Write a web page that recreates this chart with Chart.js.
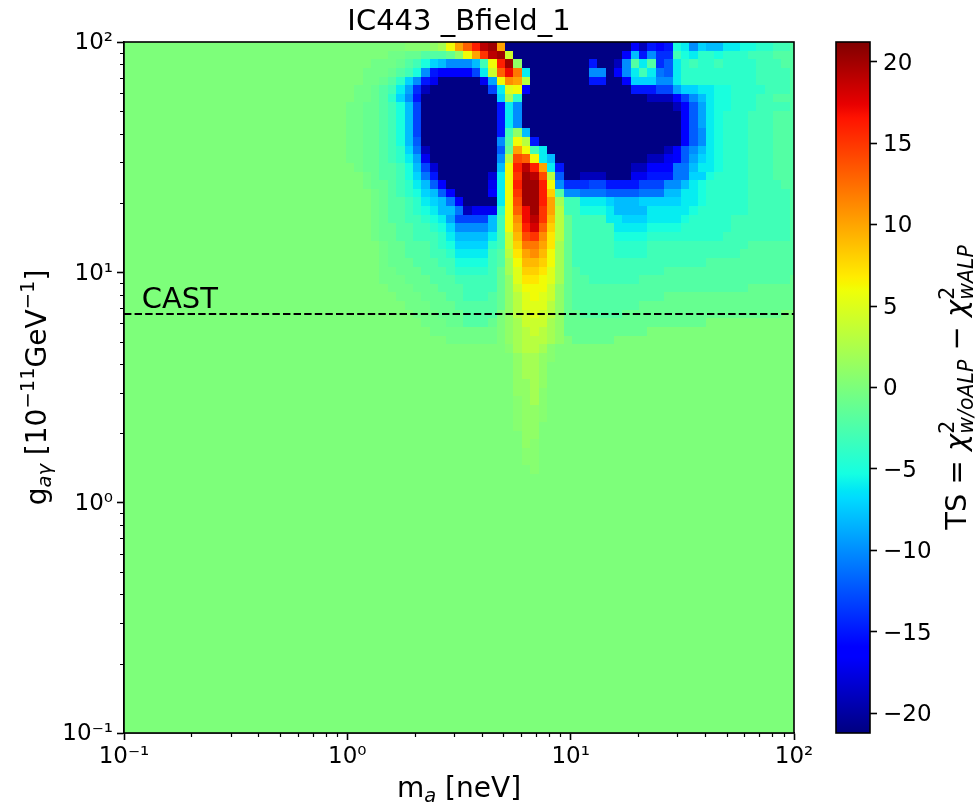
<!DOCTYPE html>
<html>
<head>
<meta charset="utf-8">
<script src="https://cdn.jsdelivr.net/npm/chart.js@4.4.1/dist/chart.umd.min.js"></script>
<style>
  html, body { margin: 0; padding: 0; background: #fff; }
  #wrap { position: relative; width: 975px; height: 808px; }
  #main { position: absolute; left: 0; top: 0; }
  #bar { position: absolute; left: 800px; top: 0; }
</style>
</head>
<body>
<div id="wrap">
  <canvas id="main" width="975" height="808"></canvas>
  <canvas id="bar" width="175" height="808"></canvas>
</div>
<script>
// ---------------- data ----------------
const plotTitle = 'IC443 _Bfield_1';
const massTickValues = [0.1, 1, 10, 100];
const massTickLabels = ['10⁻¹', '10⁰', '10¹', '10²'];
const couplingTickValues = [0.1, 1, 10, 100];
const couplingTickLabels = ['10⁻¹', '10⁰', '10¹', '10²'];
const tsTickValues = [-20, -15, -10, -5, 0, 5, 10, 15, 20];
const tsTickLabels = ['−20', '−15', '−10', '−5', '0', '5', '10', '15', '20'];
const tsRange = [-21.2, 21.2];
const castLimit = 6.6;          // CAST bound in 1e-11 GeV^-1
const castLabelAt = [0.12, 7];

// scan grid: 81 mass points log-spaced over 1e-1..1e2 neV (columns),
// 80 coupling bins log-spaced over 1e2..1e-1 (rows, top to bottom)
const massExp = [-1, 2], massPoints = 81;
const couplingExp = [-1, 2], couplingBins = 80;

// TS per cell, one character per cell:
// a..u = -21..-1, 0 = 0, A..U = +1..+21, v = -0.5, V = +0.5
const tsLevels = 'abcdefghijklmnopqrstu0ABCDEFGHIJKLMNOPQRSTU';
const tsHalfLevels = { v: -0.5, V: 0.5 };
const tsRows = [
  "00000 00000 00000 00000 00000 0 00000 000VV VABFJ MPSTJ aaaaa aaaaa aaaaa fcgfg qplon nppqq rrsst",
  "00000 00000 00000 00000 00000 0 00000 0vvuu tttuA FJOST Daaaa aaaaa aaaaf nglhh sqprr qrrrs ssttt",
  "00000 00000 00000 00000 00000 0 0000v vvuts qonll lnsFP TAaaa aaaaa gaacl tpthj prsrr srrrr ssstt",
  "00000 00000 00000 00000 00000 0 000vv vutsq lgfff fipDM QLpaa aaaaa llafl pspkj prrrr rrrrr sssst",
  "00000 00000 00000 00000 00000 0 000vv utrol geaaa aaemF KJCaa aaaaa ggaaf oooll prrrr rrrrr sssst",
  "00000 00000 00000 00000 00000 0 00vvu tspmh caaaa aaaip EFfaa aaaaa aaaaa gggii moopp qqrrr rssst",
  "00000 00000 00000 00000 00000 0 00vvu trolg aaaaa aaaao Braaa aaaaa aaaaa aaccc filnp qqrrr ssttt",
  "00000 00000 00000 00000 00000 0 0vvuu tsqni aaaaa aaaag plaaa aaaaa aaaaa aaaaa cfjmp qqrrr sssst",
  "00000 00000 00000 00000 00000 0 0vvuu tsqni aaaaa aaaag plaaa aaaaa aaaaa aaaaa afjmp qrrrs ssttt",
  "00000 00000 00000 00000 00000 0 0vvuu tsqni aaaaa aaaag plaaa aaaaa aaaaa aaaaa afjmp qrrrs ssttt",
  "00000 00000 00000 00000 00000 0 0vvuu tsqni aaaaa aaaag sAnaa aaaaa aaaaa aaaaa afjlp qrrrs ssttt",
  "00000 00000 00000 00000 00000 0 0vvuu tsqnj aaaaa aaaal tFCga aaaaa aaaaa aaaaa afjlp qrrrs ssttt",
  "00000 00000 00000 00000 00000 0 0vvuu tsrok caaaa aaaaj uJFsp aaaaa aaaaa aaaac fjlnp qrrrs ssttt",
  "00000 00000 00000 00000 00000 0 0vvuu tsrpm eaaaa aaaal CNMFp naaaa aaaaa aacce fjmop qrrrs ssttt",
  "00000 00000 00000 00000 00000 0 00vuu ttsqn idaaa aaaan FPSPJ pgaaa aaaaa ccfff kknpp qrrrs ssttt",
  "00000 00000 00000 00000 00000 0 000vu ttsqo kgaaa aaadp FOTSN Cjaac ccaaa eeggg kkooq rrrrs ssttt",
  "00000 00000 00000 00000 00000 0 000vu utsrp njfaa aaaep FPTTP Flhhh iiggg giiil lnpqr rrrrs ssstt",
  "00000 00000 00000 00000 00000 0 0000v utsrq onjfa aaafp FOTTP Htllk kkjjj jkkkn nppqr rrrrs sssst",
  "00000 00000 00000 00000 00000 0 0000v uttsr ponkf aaaap FNTTP JBssp pponn noooo oppqr rrrrs sssst",
  "00000 00000 00000 00000 00000 0 0000v uttsr qpnnk ceeer FMQTO JCssq qqpnn nnppp ppqrr rrrrs sssst",
  "00000 00000 00000 00000 00000 0 0000v uttss rqpmi iiins FKQSO ICuss ssppo ooppp pqrrr rrsss sssst",
  "00000 00000 00000 00000 00000 0 0000v uutts srqol lllns FJPRM HCuss ssspp ppqqq qrrrr rrsss sssst",
  "00000 00000 00000 00000 00000 0 0000v uutts ssrpn nnnps DINOK GCuss sssqq qqrrr rrrrr rssss sssst",
  "00000 00000 00000 00000 00000 0 00000 vuutt tsrqo ooors DHLLJ GBuss sssrr rrsss sssss sssst ttttt",
  "00000 00000 00000 00000 00000 0 00000 vuutt tssrp pppst CGJKI FBuss sssrr rrsss sssss ssstt ttttt",
  "00000 00000 00000 00000 00000 0 00000 vuuut ttssq qqqst BFIIH FBuss sssss sssss sssst ttttt ttttt",
  "00000 00000 00000 00000 00000 0 00000 vvuuu tttsr rrrsu BEHHG EButs sssss sssst ttttt ttttt ttttt",
  "00000 00000 00000 00000 00000 0 00000 vvvuu uttts ssssu AEGGF EButt sssss stttt ttttt ttttt ttttu",
  "00000 00000 00000 00000 00000 0 00000 0vvvu uuttt ssssu ADFFF DAutt ttttt ttttt ttttt ttttu uuuuu",
  "00000 00000 00000 00000 00000 0 00000 00vvv uuutt ssstu ACEFE DAutt ttttt ttttu uuuuu uuuuu uuuuu",
  "00000 00000 00000 00000 00000 0 00000 000vv vuuut ttttu ACEEE CAutt ttttt tuuuu uuuuu uuuuu uuuuu",
  "00000 00000 00000 00000 00000 0 00000 0000v vvuuu tttt0 ACDED CAuut ttttu uuuuu uuuuu uuuuu uuu00",
  "00000 00000 00000 00000 00000 0 00000 00000 vvvuu tttu0 ABDDD BAuuu uuuuu uuuuu uuuu0 00000 00000",
  "00000 00000 00000 00000 00000 0 00000 00000 0vvvv vvvv0 ABCDC BAuuu uuuuu uu000 00000 00000 00000",
  "00000 00000 00000 00000 00000 0 00000 00000 000vv vvvv0 ABCCC BA0uu uuu00 00000 00000 00000 00000",
  "00000 00000 00000 00000 00000 0 00000 00000 00000 00000 VBCCB V0000 00000 00000 00000 00000 00000",
  "00000 00000 00000 00000 00000 0 00000 00000 00000 00000 0ABBA V0000 00000 00000 00000 00000 00000",
  "00000 00000 00000 00000 00000 0 00000 00000 00000 00000 0ABBA 00000 00000 00000 00000 00000 00000",
  "00000 00000 00000 00000 00000 0 00000 00000 00000 00000 0ABBA 00000 00000 00000 00000 00000 00000",
  "00000 00000 00000 00000 00000 0 00000 00000 00000 00000 0AABA 00000 00000 00000 00000 00000 00000",
  "00000 00000 00000 00000 00000 0 00000 00000 00000 00000 0AABV 00000 00000 00000 00000 00000 00000",
  "00000 00000 00000 00000 00000 0 00000 00000 00000 00000 0VABV 00000 00000 00000 00000 00000 00000",
  "00000 00000 00000 00000 00000 0 00000 00000 00000 00000 0VAAV 00000 00000 00000 00000 00000 00000",
  "00000 00000 00000 00000 00000 0 00000 00000 00000 00000 0VAAV 00000 00000 00000 00000 00000 00000",
  "00000 00000 00000 00000 00000 0 00000 00000 00000 00000 0VAA0 00000 00000 00000 00000 00000 00000",
  "00000 00000 00000 00000 00000 0 00000 00000 00000 00000 00AA0 00000 00000 00000 00000 00000 00000",
  "00000 00000 00000 00000 00000 0 00000 00000 00000 00000 00AV0 00000 00000 00000 00000 00000 00000",
  "00000 00000 00000 00000 00000 0 00000 00000 00000 00000 00VV0 00000 00000 00000 00000 00000 00000",
  "00000 00000 00000 00000 00000 0 00000 00000 00000 00000 00VV0 00000 00000 00000 00000 00000 00000",
  "00000 00000 00000 00000 00000 0 00000 00000 00000 00000 000V0 00000 00000 00000 00000 00000 00000",
  "00000 00000 00000 00000 00000 0 00000 00000 00000 00000 00000 00000 00000 00000 00000 00000 00000",
  "00000 00000 00000 00000 00000 0 00000 00000 00000 00000 00000 00000 00000 00000 00000 00000 00000",
  "00000 00000 00000 00000 00000 0 00000 00000 00000 00000 00000 00000 00000 00000 00000 00000 00000",
  "00000 00000 00000 00000 00000 0 00000 00000 00000 00000 00000 00000 00000 00000 00000 00000 00000",
  "00000 00000 00000 00000 00000 0 00000 00000 00000 00000 00000 00000 00000 00000 00000 00000 00000",
  "00000 00000 00000 00000 00000 0 00000 00000 00000 00000 00000 00000 00000 00000 00000 00000 00000",
  "00000 00000 00000 00000 00000 0 00000 00000 00000 00000 00000 00000 00000 00000 00000 00000 00000",
  "00000 00000 00000 00000 00000 0 00000 00000 00000 00000 00000 00000 00000 00000 00000 00000 00000",
  "00000 00000 00000 00000 00000 0 00000 00000 00000 00000 00000 00000 00000 00000 00000 00000 00000",
  "00000 00000 00000 00000 00000 0 00000 00000 00000 00000 00000 00000 00000 00000 00000 00000 00000",
  "00000 00000 00000 00000 00000 0 00000 00000 00000 00000 00000 00000 00000 00000 00000 00000 00000",
  "00000 00000 00000 00000 00000 0 00000 00000 00000 00000 00000 00000 00000 00000 00000 00000 00000",
  "00000 00000 00000 00000 00000 0 00000 00000 00000 00000 00000 00000 00000 00000 00000 00000 00000",
  "00000 00000 00000 00000 00000 0 00000 00000 00000 00000 00000 00000 00000 00000 00000 00000 00000",
  "00000 00000 00000 00000 00000 0 00000 00000 00000 00000 00000 00000 00000 00000 00000 00000 00000",
  "00000 00000 00000 00000 00000 0 00000 00000 00000 00000 00000 00000 00000 00000 00000 00000 00000",
  "00000 00000 00000 00000 00000 0 00000 00000 00000 00000 00000 00000 00000 00000 00000 00000 00000",
  "00000 00000 00000 00000 00000 0 00000 00000 00000 00000 00000 00000 00000 00000 00000 00000 00000",
  "00000 00000 00000 00000 00000 0 00000 00000 00000 00000 00000 00000 00000 00000 00000 00000 00000",
  "00000 00000 00000 00000 00000 0 00000 00000 00000 00000 00000 00000 00000 00000 00000 00000 00000",
  "00000 00000 00000 00000 00000 0 00000 00000 00000 00000 00000 00000 00000 00000 00000 00000 00000",
  "00000 00000 00000 00000 00000 0 00000 00000 00000 00000 00000 00000 00000 00000 00000 00000 00000",
  "00000 00000 00000 00000 00000 0 00000 00000 00000 00000 00000 00000 00000 00000 00000 00000 00000",
  "00000 00000 00000 00000 00000 0 00000 00000 00000 00000 00000 00000 00000 00000 00000 00000 00000",
  "00000 00000 00000 00000 00000 0 00000 00000 00000 00000 00000 00000 00000 00000 00000 00000 00000",
  "00000 00000 00000 00000 00000 0 00000 00000 00000 00000 00000 00000 00000 00000 00000 00000 00000",
  "00000 00000 00000 00000 00000 0 00000 00000 00000 00000 00000 00000 00000 00000 00000 00000 00000",
  "00000 00000 00000 00000 00000 0 00000 00000 00000 00000 00000 00000 00000 00000 00000 00000 00000",
  "00000 00000 00000 00000 00000 0 00000 00000 00000 00000 00000 00000 00000 00000 00000 00000 00000",
  "00000 00000 00000 00000 00000 0 00000 00000 00000 00000 00000 00000 00000 00000 00000 00000 00000"
];

// ---------------- helpers ----------------
const tsGrid = tsRows.map(r => Array.from(r.replace(/ /g, ''))
  .map(c => (c in tsHalfLevels) ? tsHalfLevels[c] : tsLevels.indexOf(c) - 21));

// matplotlib "jet" segment data
const JET = {
  r: [[0, 0], [0.35, 0], [0.66, 1], [0.89, 1], [1, 0.5]],
  g: [[0, 0], [0.125, 0], [0.375, 1], [0.64, 1], [0.91, 0], [1, 0]],
  b: [[0, 0.5], [0.11, 1], [0.34, 1], [0.65, 0], [1, 0]]
};
function seg(s, t) {
  for (let i = 1; i < s.length; i++) {
    if (t <= s[i][0]) {
      const [t0, v0] = s[i - 1], [t1, v1] = s[i];
      return v0 + (v1 - v0) * (t - t0) / (t1 - t0);
    }
  }
  return s[s.length - 1][1];
}
function jet(t, quantize) {
  t = Math.min(1, Math.max(0, t));
  if (quantize) t = Math.min(255, Math.floor(t * 256)) / 255;
  const c = v => Math.round(255 * v);
  return `rgb(${c(seg(JET.r, t))},${c(seg(JET.g, t))},${c(seg(JET.b, t))})`;
}
const FONT = '"DejaVu Sans"';
function partFont(p) { return (p.italic ? 'italic ' : '') + p.size + 'px ' + FONT; }
function partsWidth(ctx, parts) {
  let w = 0;
  for (const p of parts) {
    if (p.stack) {
      let m = 0;
      for (const q of p.stack) { ctx.font = partFont(q); m = Math.max(m, ctx.measureText(q.text).width); }
      w += m;
    } else { ctx.font = partFont(p); w += ctx.measureText(p.text).width; }
  }
  return w;
}
function drawParts(ctx, parts, x, y) {
  for (const p of parts) {
    if (p.stack) {
      let m = 0;
      for (const q of p.stack) {
        ctx.font = partFont(q);
        ctx.fillText(q.text, x, y - (q.rise || 0));
        m = Math.max(m, ctx.measureText(q.text).width);
      }
      x += m;
    } else {
      ctx.font = partFont(p);
      ctx.fillText(p.text, x, y - (p.rise || 0));
      x += ctx.measureText(p.text).width;
    }
  }
}

const xTitleParts = [
  { text: 'm', size: 28 },
  { text: 'a', size: 19.5, rise: -5, italic: true },
  { text: ' [neV]', size: 28 }
];
const yTitleParts = [
  { text: 'g', size: 28 },
  { text: 'aγ', size: 19.5, rise: -5, italic: true },
  { text: ' [10', size: 28 },
  { text: '−11', size: 19.5, rise: 12 },
  { text: 'GeV', size: 28 },
  { text: '−1', size: 19.5, rise: 12 },
  { text: ']', size: 28 }
];
const cbTitleParts = [
  { text: 'TS = ', size: 29 },
  { text: 'χ', size: 29, italic: true },
  { stack: [{ text: '2', size: 20.5, rise: 12 }, { text: 'w/oALP', size: 20.5, rise: -7, italic: true }] },
  { text: ' − ', size: 29 },
  { text: 'χ', size: 29, italic: true },
  { stack: [{ text: '2', size: 20.5, rise: 12 }, { text: 'wALP', size: 20.5, rise: -7, italic: true }] }
];

Chart.defaults.font.family = FONT;
Chart.defaults.color = '#000';

// ---------------- plugins ----------------
const heatmapPlugin = {
  id: 'tsHeatmap',
  beforeDatasetsDraw(chart) {
    const { ctx, chartArea: a, scales: { x, y } } = chart;
    const dx = (massExp[1] - massExp[0]) / (massPoints - 1);
    const dy = (couplingExp[1] - couplingExp[0]) / couplingBins;
    ctx.save();
    ctx.beginPath();
    ctx.rect(a.left, a.top, a.right - a.left, a.bottom - a.top);
    ctx.clip();
    tsGrid.forEach((row, j) => {
      const y0 = Math.round(y.getPixelForValue(Math.pow(10, couplingExp[1] - j * dy)));
      const y1 = Math.round(y.getPixelForValue(Math.pow(10, couplingExp[1] - (j + 1) * dy)));
      row.forEach((v, k) => {
        const x0 = Math.round(x.getPixelForValue(Math.pow(10, massExp[0] + (k - 0.5) * dx)));
        const x1 = Math.round(x.getPixelForValue(Math.pow(10, massExp[0] + (k + 0.5) * dx)));
        ctx.fillStyle = jet((v - tsRange[0]) / (tsRange[1] - tsRange[0]), true);
        ctx.fillRect(x0, y0, x1 - x0, y1 - y0);
      });
    });
    ctx.restore();
  }
};

const framePlugin = {
  id: 'frameAndText',
  afterDraw(chart) {
    const { ctx, chartArea: a, scales: { x, y } } = chart;
    ctx.save();
    // minor log ticks
    ctx.strokeStyle = '#000';
    ctx.lineWidth = 1.2;
    ctx.beginPath();
    for (let d = massExp[0]; d < massExp[1]; d++) {
      for (let m = 2; m < 10; m++) {
        const px = Math.round(x.getPixelForValue(m * Math.pow(10, d))) + 0.5;
        ctx.moveTo(px, a.bottom); ctx.lineTo(px, a.bottom + 4);
      }
    }
    for (let d = couplingExp[0]; d < couplingExp[1]; d++) {
      for (let m = 2; m < 10; m++) {
        const py = Math.round(y.getPixelForValue(m * Math.pow(10, d))) + 0.5;
        ctx.moveTo(a.left - 4, py); ctx.lineTo(a.left, py);
      }
    }
    ctx.stroke();
    // frame
    ctx.lineWidth = 1.6;
    ctx.strokeRect(a.left, a.top, a.right - a.left, a.bottom - a.top);

    // texts
    ctx.fillStyle = '#000';
    ctx.textBaseline = 'alphabetic';
    ctx.textAlign = 'center';
    ctx.font = '29px ' + FONT;
    ctx.fillText(plotTitle, (a.left + a.right) / 2, 30);

    ctx.textAlign = 'left';
    const wx = partsWidth(ctx, xTitleParts);
    drawParts(ctx, xTitleParts, (a.left + a.right) / 2 - wx / 2, 797);

    ctx.save();
    ctx.translate(46, (a.top + a.bottom) / 2);
    ctx.rotate(-Math.PI / 2);
    const wy = partsWidth(ctx, yTitleParts);
    drawParts(ctx, yTitleParts, -wy / 2, 0);
    ctx.restore();

    ctx.font = '29px ' + FONT;
    ctx.fillText('CAST', x.getPixelForValue(castLabelAt[0]), y.getPixelForValue(castLabelAt[1]));
    ctx.restore();
  }
};

const colorbarPlugin = {
  id: 'colorbar',
  beforeDatasetsDraw(chart) {
    const { ctx, chartArea: a, scales: { y } } = chart;
    const yb = y.getPixelForValue(tsRange[0]);
    const yt = y.getPixelForValue(tsRange[1]);
    const g = ctx.createLinearGradient(0, yb, 0, yt);
    [0, 0.11, 0.125, 0.34, 0.35, 0.375, 0.64, 0.65, 0.66, 0.89, 0.91, 1]
      .forEach(t => g.addColorStop(t, jet(t, false)));
    ctx.save();
    ctx.fillStyle = g;
    ctx.fillRect(a.left, yt, a.right - a.left, yb - yt);
    ctx.lineWidth = 1.6;
    ctx.strokeStyle = '#000';
    ctx.strokeRect(a.left, yt, a.right - a.left, yb - yt);
    ctx.restore();
  },
  afterDraw(chart) {
    const { ctx, chartArea: a } = chart;
    ctx.save();
    ctx.fillStyle = '#000';
    ctx.textAlign = 'left';
    ctx.textBaseline = 'alphabetic';
    ctx.translate(166, (a.top + a.bottom) / 2);
    ctx.rotate(-Math.PI / 2);
    const w = partsWidth(ctx, cbTitleParts);
    drawParts(ctx, cbTitleParts, -w / 2, 0);
    ctx.restore();
  }
};

// ---------------- main chart ----------------
const tickFont = { family: FONT, size: 23 };
new Chart(document.getElementById('main'), {
  type: 'scatter',
  data: {
    datasets: [{
      data: [{ x: massTickValues[0], y: castLimit }, { x: massTickValues[3], y: castLimit }],
      showLine: true,
      borderColor: '#000',
      borderWidth: 2,
      borderDash: [7.4, 3.2],
      pointRadius: 0,
      fill: false
    }]
  },
  options: {
    responsive: false,
    animation: false,
    devicePixelRatio: 1,
    layout: { padding: { left: 0, right: 181, top: 42, bottom: 0 } },
    plugins: { legend: { display: false }, tooltip: { enabled: false }, title: { display: false } },
    scales: {
      x: {
        type: 'logarithmic',
        min: massTickValues[0], max: massTickValues[3],
        afterBuildTicks: s => { s.ticks = massTickValues.map(v => ({ value: v })); },
        afterFit: s => { s.height = 75; },
        ticks: { callback: (v, i) => massTickLabels[i], font: tickFont, color: '#000', padding: 3, maxRotation: 0, autoSkip: false },
        grid: { drawOnChartArea: false, drawTicks: true, tickLength: 7, tickWidth: 1.6, tickColor: '#000' },
        border: { display: true, color: '#000', width: 1.6 }
      },
      y: {
        type: 'logarithmic',
        min: couplingTickValues[0], max: couplingTickValues[3],
        afterBuildTicks: s => { s.ticks = couplingTickValues.map(v => ({ value: v })); },
        afterFit: s => { s.width = 124; },
        ticks: { callback: (v, i) => couplingTickLabels[i], font: tickFont, color: '#000', padding: 4, labelOffset: 1.5, autoSkip: false },
        grid: { drawOnChartArea: false, drawTicks: true, tickLength: 7, tickWidth: 1.6, tickColor: '#000' },
        border: { display: true, color: '#000', width: 1.6 }
      }
    }
  },
  plugins: [heatmapPlugin, framePlugin]
});

// ---------------- colour bar ----------------
new Chart(document.getElementById('bar'), {
  type: 'scatter',
  data: { datasets: [] },
  options: {
    responsive: false,
    animation: false,
    devicePixelRatio: 1,
    layout: { padding: { left: 36, right: 0, top: 42, bottom: 75 } },
    plugins: { legend: { display: false }, tooltip: { enabled: false } },
    scales: {
      x: { display: false, min: 0, max: 1 },
      y: {
        position: 'right',
        min: tsRange[0], max: tsRange[1],
        afterBuildTicks: s => { s.ticks = tsTickValues.map(v => ({ value: v })); },
        afterFit: s => { s.width = 105; },
        ticks: { callback: (v, i) => tsTickLabels[i], font: tickFont, color: '#000', padding: 6, labelOffset: 2, autoSkip: false },
        grid: { drawOnChartArea: false, drawTicks: true, tickLength: 7, tickWidth: 1.6, tickColor: '#000' },
        border: { display: false }
      }
    }
  },
  plugins: [colorbarPlugin]
});
</script>
</body>
</html>
